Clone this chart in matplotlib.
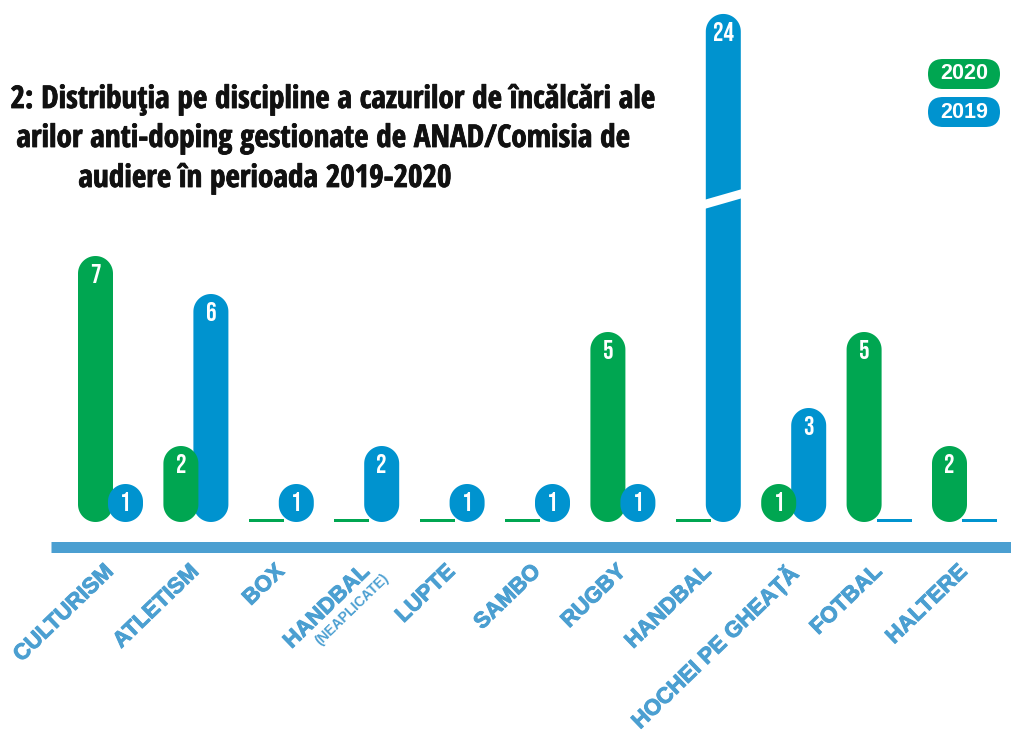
import numpy as np
import matplotlib
matplotlib.use("Agg")
import matplotlib.pyplot as plt
import matplotlib.patheffects as pe
from matplotlib.patches import Polygon, FancyBboxPatch

# Date (cazuri pe discipline)
categories = ["CULTURISM", "ATLETISM", "BOX", "HANDBAL", "LUPTE", "SAMBO",
              "RUGBY", "HANDBAL", "HOCHEI PE GHEAȚĂ", "FOTBAL", "HALTERE"]
sub_labels = ["", "", "", "(NEAPLICATE)", "", "", "", "", "", "", ""]
cases_2020 = [7, 2, 0, 0, 0, 0, 5, 0, 1, 5, 2]
cases_2019 = [1, 6, 1, 2, 1, 1, 1, 24, 3, 0, 0]

# titlul apare taiat in stanga in original
title_lines = ["2: Distribuţia pe discipline a cazurilor de încălcări ale",
               "arilor anti-doping gestionate de ANAD/Comisia de",
               "audiere în perioada 2019-2020"]

GREEN = "#00a651"
BLUE = "#0093cf"
AXIS_BLUE = "#4b9fd1"

# geometrie (pixeli)
W, H = 1011, 737
PX_X = 85.4      # px intre grupuri
PX_Y = 38.0      # px pe unitate
X0 = 110.5       # mijlocul primului grup
Y0 = 522.0       # baza barelor (de sus)
BAR_W = 35 / PX_X
OFF = 15 / PX_X
SHOWN_MAX = 13.37  # barele mai mari sunt "rupte"
BREAK_AT = 8.5

fig = plt.figure(figsize=(W / 100, H / 100), dpi=100)
ax = fig.add_axes([0, 0, 1, 1])
ax.set_xlim(-X0 / PX_X, (W - X0) / PX_X)
ax.set_ylim(-(H - Y0) / PX_Y, Y0 / PX_Y)
ax.axis("off")

rx = BAR_W / 2
ry = rx * PX_X / PX_Y


def pill(xc, h, color, z):
    # bara cu capete rotunjite
    t = np.linspace(0, np.pi, 40)
    top = np.column_stack([xc + rx * np.cos(t), h - ry + ry * np.sin(t)])
    bot = np.column_stack([xc - rx * np.cos(t), ry - ry * np.sin(t)])
    ax.add_patch(Polygon(np.vstack([top, bot]), closed=True, fc=color, ec="none", zorder=z))


def draw_bar(xc, v, color, z):
    if v == 0:
        ax.bar(xc, 3 / PX_Y, width=BAR_W, bottom=0, color=color, zorder=z)
        return
    h = min(v, SHOWN_MAX)
    pill(xc, h, color, z)
    ax.text(xc, h - 0.47, str(v), color="white", ha="center", va="center",
            fontsize=19, family=["Bebas Neue", "DejaVu Sans"], zorder=z + 0.5)
    if v > SHOWN_MAX:
        sl = 0.29
        xs = [xc - rx - 0.02, xc + rx + 0.02, xc + rx + 0.02, xc - rx - 0.02]
        ys = [BREAK_AT - sl / 2 - 0.12, BREAK_AT + sl / 2 - 0.12,
              BREAK_AT + sl / 2 + 0.12, BREAK_AT - sl / 2 + 0.12]
        ax.add_patch(Polygon(np.column_stack([xs, ys]), closed=True, fc="white",
                             ec="none", zorder=z + 0.6))


for i, (a, b) in enumerate(zip(cases_2020, cases_2019)):
    # bara mai scurta deasupra
    za, zb = (3, 2) if a <= b else (2, 3)
    draw_bar(i - OFF, a, GREEN, za)
    draw_bar(i + OFF, b, BLUE, zb)

# axa
ax.plot([(51 - X0) / PX_X, (W - X0) / PX_X], [-25 / PX_Y] * 2, color=AXIS_BLUE,
        lw=11 * 0.72, solid_capstyle="butt", zorder=1)

ROT = 44
thick = [pe.withStroke(linewidth=0.7, foreground=AXIS_BLUE)]
for i, (lab, sub) in enumerate(zip(categories, sub_labels)):
    xy = (i - 7 / PX_X, -(561 - Y0) / PX_Y)
    ax.text(*xy, lab, rotation=ROT, rotation_mode="anchor", ha="right", va="top",
            color=AXIS_BLUE, fontsize=16, fontweight="bold", family="Liberation Sans",
            path_effects=thick)
    if sub:
        d = 20
        ax.annotate(sub, xy, xytext=(d * np.sin(np.radians(ROT)) + 8, -d * np.cos(np.radians(ROT)) + 4),
                    textcoords="offset pixels", rotation=ROT, rotation_mode="anchor",
                    ha="right", va="top", color=AXIS_BLUE, fontsize=10, fontweight="bold",
                    family="Liberation Sans")

# legenda
for label, color, ytop in [("2020", GREEN, 59), ("2019", BLUE, 97)]:
    y_in = (H - ytop - 30) / 100
    fig.add_artist(FancyBboxPatch((9.28, y_in), 0.72, 0.30,
                                  boxstyle="round,pad=0,rounding_size=0.15",
                                  transform=fig.dpi_scale_trans, fc=color, ec="none"))
    fig.text(9.64, y_in + 0.15, label, transform=fig.dpi_scale_trans, color="white",
             ha="center", va="center", fontsize=15.5, fontweight="bold", family="Liberation Sans")

# titlu
tkw = dict(color="#111111", fontsize=22.5, fontweight="bold", family="Open Sans Condensed",
           va="baseline", transform=fig.dpi_scale_trans,
           path_effects=[pe.withStroke(linewidth=0.6, foreground="#111111")])
fig.text(6.55, (H - 108) / 100, title_lines[0], ha="right", **tkw)
fig.text(6.30, (H - 147) / 100, title_lines[1], ha="right", **tkw)
fig.text(2.65, (H - 187) / 100, title_lines[2], ha="center", **tkw)

fig.savefig("out.png", dpi=100)
